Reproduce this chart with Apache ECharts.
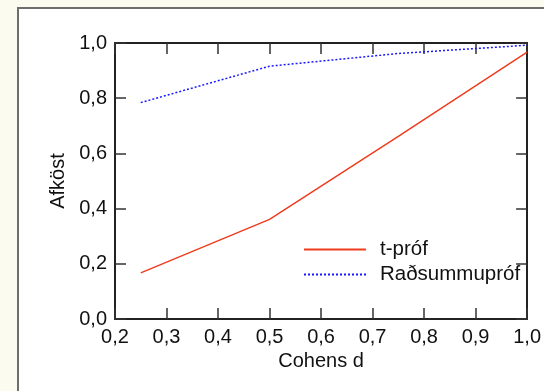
<!DOCTYPE html>
<html>
<head>
<meta charset="utf-8">
<script src="https://cdn.jsdelivr.net/npm/echarts@6/dist/echarts.min.js"></script>
<style>
  html, body { margin: 0; padding: 0; background: #fbfbf0; }
  #chart { width: 544px; height: 391px; }
</style>
</head>
<body>
<div id="chart"></div>
<script>
// Cohens d on the x axis, power (afköst) on the y axis
var effectSizes = [0.25, 0.5, 0.75, 1.0];
var tTestPower = [0.167, 0.361, 0.662, 0.967];
var rankSumPower = [0.784, 0.916, 0.962, 0.992];
var seriesNames = ['t-próf', 'Raðsummupróf'];

var chartDom = document.getElementById('chart');
var myChart = echarts.init(chartDom);

var font = 'Liberation Sans, Arial, sans-serif';
var comma = function (v) { return v.toFixed(1).replace('.', ','); };

let toPoints = (ys) => effectSizes.map((x, i) => [x, ys[i]]);

let axisBase = (showLabels) => {
    return {
        type: 'value',
        splitLine: { show: false },
        axisLine: { show: true, onZero: false, lineStyle: { color: '#222', width: 2 } },
        axisTick: { show: true, inside: true, length: 11, lineStyle: { color: '#333', width: 1.5 } },
        axisLabel: {
            show: showLabels,
            color: '#111',
            fontFamily: font,
            fontSize: 20,
            formatter: comma
        }
    };
};

var option = {
    backgroundColor: '#fbfbf0',
    animation: false,
    graphic: [{
        type: 'rect',
        z: -10,
        shape: { x: 18, y: 8, width: 600, height: 500 },
        style: { fill: '#ffffff', stroke: '#6e6e6e', lineWidth: 2 }
    }],
    grid: { left: 115, top: 43, right: 15, bottom: 72 },
    xAxis: [
        Object.assign(axisBase(true), {
            position: 'bottom', min: 0.2, max: 1.0, interval: 0.1,
            name: 'Cohens d', nameLocation: 'middle', nameGap: 32,
            nameTextStyle: { fontFamily: font, fontSize: 20, color: '#111' }
        }),
        Object.assign(axisBase(false), {
            position: 'top', min: 0.2, max: 1.0, interval: 0.1
        })
    ],
    yAxis: [
        Object.assign(axisBase(true), {
            position: 'left', min: 0, max: 1.0, interval: 0.2,
            name: 'Afköst', nameLocation: 'middle', nameGap: 47,
            nameTextStyle: { fontFamily: font, fontSize: 20, color: '#111' }
        }),
        Object.assign(axisBase(false), {
            position: 'right', min: 0, max: 1.0, interval: 0.2
        })
    ],
    legend: {
        orient: 'vertical',
        left: 298,
        top: 234,
        itemWidth: 62,
        itemHeight: 14,
        itemGap: 4,
        itemStyle: { opacity: 0 },
        textStyle: { fontFamily: font, fontSize: 20.5, color: '#111', lineHeight: 20, padding: [0, 0, 0, 9] },
        data: seriesNames
    },
    series: [
        {
            name: seriesNames[0],
            type: 'line',
            symbol: 'none',
            data: toPoints(tTestPower),
            lineStyle: { color: '#f03c1e', width: 1.5 },
            itemStyle: { color: '#f03c1e' }
        },
        {
            name: seriesNames[1],
            type: 'line',
            symbol: 'none',
            data: toPoints(rankSumPower),
            lineStyle: { color: '#1a1aff', width: 1.5, type: [2, 2] },
            itemStyle: { color: '#1a1aff' }
        }
    ]
};

option && myChart.setOption(option);
</script>
</body>
</html>
